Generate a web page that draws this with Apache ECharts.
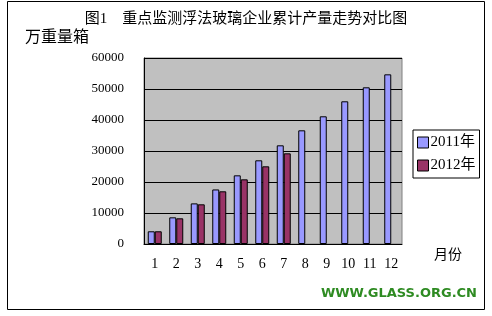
<!DOCTYPE html>
<html><head><meta charset="utf-8">
<script src="https://cdn.jsdelivr.net/npm/echarts@6/dist/echarts.min.js"></script>
<style>html,body{margin:0;padding:0;background:#fff}#c{width:492px;height:316px}</style>
</head><body><div id="c"></div>
<script>
const months = ['1','2','3','4','5','6','7','8','9','10','11','12'];
const yTicks = [0, 10000, 20000, 30000, 40000, 50000, 60000];
const s2011 = [4100, 8600, 13100, 17600, 22150, 27000, 31830, 36670, 41190, 46030, 50540, 54730];
const s2012 = [4100, 8290, 12800, 17000, 20860, 25060, 29250, null, null, null, null, null];
const titleText = '图1　重点监测浮法玻璃企业累计产量走势对比图';
const yName = '万重量箱';
const xName = '月份';
const sourceText = 'WWW.GLASS.ORG.CN';

const serif = '"Liberation Serif", "Noto Sans CJK SC", serif';
const chart = echarts.init(document.getElementById('c'), null, {renderer: 'canvas'});
chart.setOption({
  animation: false,
  backgroundColor: '#fff',
  graphic: [
    {type: 'rect', shape: {x: 7.5, y: 1.5, width: 477, height: 308}, style: {fill: 'none', stroke: '#000', lineWidth: 1}, z: -10}
  ],
  title: [
    {text: titleText, left: 246, top: 12, padding: 0, textAlign: 'center', textStyle: {fontSize: 15, fontWeight: 'normal', color: '#000', fontFamily: serif}},
    {text: yName, left: 25, top: 30, padding: 0, textStyle: {fontSize: 16, fontWeight: 'normal', color: '#000', fontFamily: serif}},
    {text: xName, left: 434, top: 248, padding: 0, textStyle: {fontSize: 14, fontWeight: 'normal', color: '#000', fontFamily: serif}},
    {text: sourceText, right: 15, top: 287, padding: 0, textStyle: {fontSize: 13, fontWeight: 900, color: '#2E8B22', fontFamily: '"DejaVu Sans", Arial, sans-serif'}}
  ],
  legend: {
    orient: 'vertical', left: 413, top: 130, icon: 'rect',
    itemWidth: 11, itemHeight: 11, itemGap: 8,
    padding: [5, 4, 5, 4],
    borderColor: '#000', borderWidth: 1, backgroundColor: '#fff',
    itemStyle: {borderColor: '#000', borderWidth: 1},
    textStyle: {fontSize: 15, color: '#000', fontFamily: serif, padding: [0, 0, 0, -3]},
    data: ['2011年', '2012年']
  },
  grid: {left: 144, top: 58, width: 258, height: 186, show: true, backgroundColor: '#C0C0C0', borderColor: '#808080', borderWidth: 1},
  xAxis: {
    type: 'category', data: months, boundaryGap: true,
    axisLine: {lineStyle: {color: '#000', width: 1}},
    axisTick: {inside: true, length: 4, lineStyle: {color: '#000'}},
    axisLabel: {fontSize: 14, color: '#000', fontFamily: serif, margin: 13, interval: 0}
  },
  yAxis: {
    type: 'value', min: yTicks[0], max: yTicks[yTicks.length - 1], interval: 10000,
    axisLine: {show: true, lineStyle: {color: '#000', width: 1}},
    axisTick: {show: false},
    axisLabel: {fontSize: 13, color: '#000', fontFamily: serif, margin: 20, formatter: v => String(v)},
    splitLine: {lineStyle: {color: '#000', width: 1}}
  },
  series: [
    {name: '2011年', type: 'bar', data: s2011, barWidth: 7, barGap: '0%',
     itemStyle: {color: '#9999FF', borderColor: '#000', borderWidth: 1}},
    {name: '2012年', type: 'bar', data: s2012, barWidth: 7,
     itemStyle: {color: '#993366', borderColor: '#000', borderWidth: 1}}
  ]
});
</script></body></html>
